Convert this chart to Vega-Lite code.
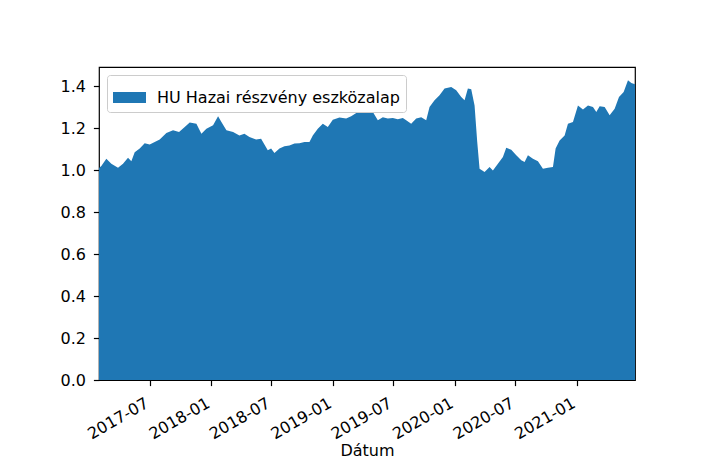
{
  "$schema": "https://vega.github.io/schema/vega-lite/v6.json",
  "width": 536,
  "height": 313,
  "autosize": {"type": "none"},
  "padding": {"left": 99, "top": 67, "right": 72, "bottom": 87},
  "background": "white",
  "config": {
    "font": "DejaVu Sans",
    "view": {"stroke": "black", "strokeWidth": 1.2},
    "axis": {
      "grid": false,
      "domain": false,
      "tickColor": "black",
      "tickWidth": 1.2,
      "tickSize": 5.6,
      "labelColor": "black",
      "labelFont": "DejaVu Sans",
      "labelFontSize": 16,
      "titleFont": "DejaVu Sans",
      "titleFontSize": 16,
      "titleFontWeight": "normal",
      "titleColor": "black"
    }
  },
  "data": {
    "values": [
      {"date": "2017-01-30", "value": 1.01},
      {"date": "2017-02-06", "value": 1.02},
      {"date": "2017-02-21", "value": 1.055},
      {"date": "2017-03-08", "value": 1.031},
      {"date": "2017-03-28", "value": 1.012},
      {"date": "2017-04-12", "value": 1.031},
      {"date": "2017-04-27", "value": 1.06},
      {"date": "2017-05-07", "value": 1.043},
      {"date": "2017-05-17", "value": 1.086},
      {"date": "2017-06-01", "value": 1.103},
      {"date": "2017-06-16", "value": 1.129},
      {"date": "2017-07-01", "value": 1.123},
      {"date": "2017-07-16", "value": 1.134},
      {"date": "2017-07-31", "value": 1.146},
      {"date": "2017-08-20", "value": 1.177},
      {"date": "2017-09-09", "value": 1.19},
      {"date": "2017-09-27", "value": 1.182},
      {"date": "2017-10-14", "value": 1.206},
      {"date": "2017-10-29", "value": 1.227},
      {"date": "2017-11-18", "value": 1.222},
      {"date": "2017-12-03", "value": 1.174},
      {"date": "2017-12-18", "value": 1.198},
      {"date": "2018-01-07", "value": 1.214},
      {"date": "2018-01-22", "value": 1.257},
      {"date": "2018-02-01", "value": 1.23},
      {"date": "2018-02-16", "value": 1.19},
      {"date": "2018-03-08", "value": 1.182},
      {"date": "2018-03-27", "value": 1.166},
      {"date": "2018-04-11", "value": 1.174},
      {"date": "2018-04-26", "value": 1.158},
      {"date": "2018-05-16", "value": 1.146},
      {"date": "2018-05-31", "value": 1.15},
      {"date": "2018-06-20", "value": 1.095},
      {"date": "2018-06-30", "value": 1.103},
      {"date": "2018-07-10", "value": 1.082},
      {"date": "2018-07-25", "value": 1.103},
      {"date": "2018-08-09", "value": 1.114},
      {"date": "2018-08-24", "value": 1.118},
      {"date": "2018-09-08", "value": 1.127},
      {"date": "2018-09-23", "value": 1.129},
      {"date": "2018-10-08", "value": 1.134},
      {"date": "2018-10-23", "value": 1.134},
      {"date": "2018-11-02", "value": 1.166},
      {"date": "2018-11-17", "value": 1.198},
      {"date": "2018-12-02", "value": 1.222},
      {"date": "2018-12-17", "value": 1.206},
      {"date": "2019-01-01", "value": 1.241},
      {"date": "2019-01-21", "value": 1.251},
      {"date": "2019-02-10", "value": 1.246},
      {"date": "2019-02-25", "value": 1.257},
      {"date": "2019-03-17", "value": 1.277},
      {"date": "2019-04-01", "value": 1.285},
      {"date": "2019-04-16", "value": 1.301},
      {"date": "2019-04-21", "value": 1.301},
      {"date": "2019-05-01", "value": 1.277},
      {"date": "2019-05-16", "value": 1.238},
      {"date": "2019-05-31", "value": 1.253},
      {"date": "2019-06-15", "value": 1.246},
      {"date": "2019-06-30", "value": 1.249},
      {"date": "2019-07-15", "value": 1.243},
      {"date": "2019-07-30", "value": 1.249},
      {"date": "2019-08-09", "value": 1.238},
      {"date": "2019-08-24", "value": 1.222},
      {"date": "2019-09-08", "value": 1.246},
      {"date": "2019-09-23", "value": 1.253},
      {"date": "2019-10-08", "value": 1.238},
      {"date": "2019-10-18", "value": 1.301},
      {"date": "2019-11-02", "value": 1.333},
      {"date": "2019-11-17", "value": 1.357},
      {"date": "2019-12-02", "value": 1.389},
      {"date": "2019-12-22", "value": 1.397},
      {"date": "2020-01-06", "value": 1.381},
      {"date": "2020-01-21", "value": 1.349},
      {"date": "2020-01-31", "value": 1.333},
      {"date": "2020-02-10", "value": 1.389},
      {"date": "2020-02-20", "value": 1.386},
      {"date": "2020-03-01", "value": 1.309},
      {"date": "2020-03-09", "value": 1.134},
      {"date": "2020-03-16", "value": 1.007},
      {"date": "2020-03-31", "value": 0.991},
      {"date": "2020-04-15", "value": 1.015},
      {"date": "2020-04-25", "value": 0.999},
      {"date": "2020-05-10", "value": 1.031},
      {"date": "2020-05-25", "value": 1.063},
      {"date": "2020-06-04", "value": 1.107},
      {"date": "2020-06-19", "value": 1.098},
      {"date": "2020-07-04", "value": 1.071},
      {"date": "2020-07-19", "value": 1.047},
      {"date": "2020-07-29", "value": 1.039},
      {"date": "2020-08-08", "value": 1.071},
      {"date": "2020-08-23", "value": 1.055},
      {"date": "2020-09-07", "value": 1.043},
      {"date": "2020-09-22", "value": 1.007},
      {"date": "2020-10-07", "value": 1.012},
      {"date": "2020-10-22", "value": 1.015},
      {"date": "2020-10-30", "value": 1.103},
      {"date": "2020-11-11", "value": 1.142},
      {"date": "2020-11-26", "value": 1.166},
      {"date": "2020-12-06", "value": 1.222},
      {"date": "2020-12-21", "value": 1.23},
      {"date": "2021-01-05", "value": 1.309},
      {"date": "2021-01-20", "value": 1.289},
      {"date": "2021-02-04", "value": 1.309},
      {"date": "2021-02-19", "value": 1.301},
      {"date": "2021-03-01", "value": 1.277},
      {"date": "2021-03-11", "value": 1.305},
      {"date": "2021-03-26", "value": 1.301},
      {"date": "2021-04-10", "value": 1.262},
      {"date": "2021-04-25", "value": 1.293},
      {"date": "2021-05-08", "value": 1.349},
      {"date": "2021-05-22", "value": 1.373},
      {"date": "2021-06-04", "value": 1.429},
      {"date": "2021-06-14", "value": 1.416},
      {"date": "2021-06-25", "value": 1.41}
    ]
  },
  "mark": {"type": "area", "opacity": 1, "line": false, "interpolate": "linear"},
  "encoding": {
    "x": {
      "field": "date",
      "type": "temporal",
      "scale": {
        "type": "utc",
        "nice": false,
        "domain": [
          {"year": 2017, "month": 1, "date": 30, "utc": true},
          {"year": 2021, "month": 6, "date": 25, "utc": true}
        ]
      },
      "axis": {
        "title": "Dátum",
        "format": "%Y-%m",
        "values": [
          {"year": 2017, "month": 7, "date": 1, "utc": true},
          {"year": 2018, "month": 1, "date": 1, "utc": true},
          {"year": 2018, "month": 7, "date": 1, "utc": true},
          {"year": 2019, "month": 1, "date": 1, "utc": true},
          {"year": 2019, "month": 7, "date": 1, "utc": true},
          {"year": 2020, "month": 1, "date": 1, "utc": true},
          {"year": 2020, "month": 7, "date": 1, "utc": true},
          {"year": 2021, "month": 1, "date": 1, "utc": true}
        ],
        "labelAngle": -30,
        "labelAlign": "right",
        "labelBaseline": "top",
        "labelOffset": -7,
        "labelPadding": 9,
        "labelOverlap": false,
        "labelFlush": false,
        "titlePadding": 1
      }
    },
    "y": {
      "field": "value",
      "type": "quantitative",
      "scale": {"domain": [0, 1.492], "nice": false},
      "axis": {
        "title": null,
        "values": [0, 0.2, 0.4, 0.6, 0.8, 1.0, 1.2, 1.4],
        "format": ".1f",
        "labelPadding": 8
      }
    },
    "color": {
      "datum": "HU Hazai részvény eszközalap",
      "scale": {"range": ["#1f77b4"]},
      "legend": {
        "title": null,
        "orient": "top-left",
        "offset": 8,
        "padding": 6,
        "fillColor": "white",
        "strokeColor": "#cccccc",
        "cornerRadius": 3,
        "symbolType": "M-1,-0.34H1V0.34H-1Z",
        "symbolSize": 1089,
        "symbolStrokeWidth": 0,
        "symbolOpacity": 1,
        "labelFont": "DejaVu Sans",
        "labelFontSize": 16,
        "labelColor": "black",
        "labelOffset": 11,
        "labelLimit": 400
      }
    }
  }
}
